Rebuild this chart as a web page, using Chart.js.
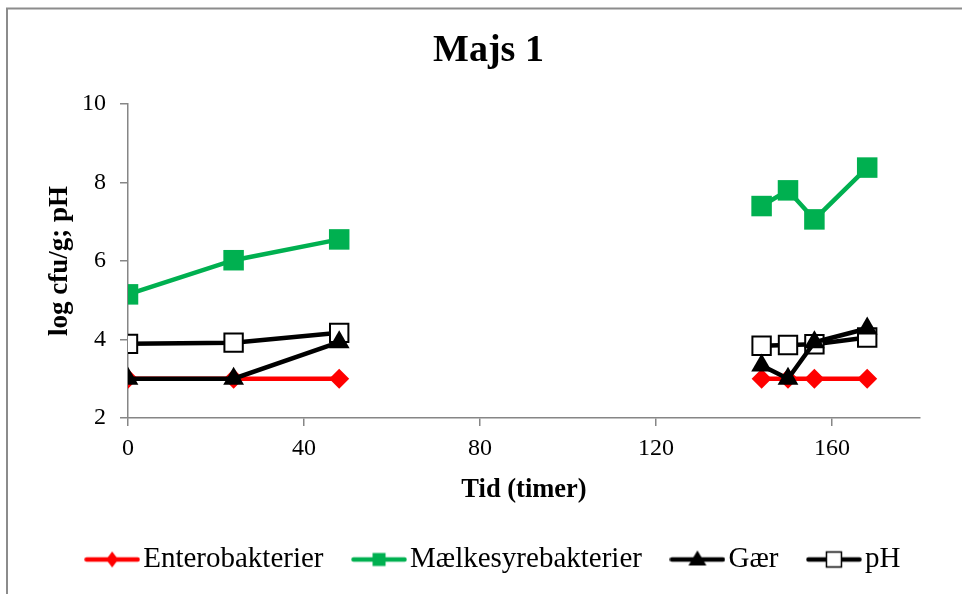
<!DOCTYPE html>
<html>
<head>
<meta charset="utf-8">
<script src="https://cdn.jsdelivr.net/npm/chart.js@4.4.1/dist/chart.umd.min.js"></script>
<style>
  html, body { margin: 0; padding: 0; background: #fff; overflow: hidden; }
  #wrap { position: absolute; left: 0; top: 0; width: 976px; height: 594px; }
</style>
</head>
<body>
<div id="wrap"><canvas id="c" width="976" height="594"></canvas></div>
<script>
// ---- data ----
const chartTitle = 'Majs 1';
const xTitle = 'Tid (timer)';
const yTitle = 'log cfu/g; pH';
const times = [0, 24, 48, 144, 150, 156, 168];
const enterobakterier = [3.0, 3.0, 3.0, 3.0, 3.0, 3.0, 3.0];
const maelkesyrebakterier = [5.15, 6.02, 6.55, 7.40, 7.80, 7.06, 8.38];
const gaer = [3.0, 3.0, 3.93, 3.34, 3.0, 3.93, 4.28];
const ph = [3.89, 3.92, 4.17, 3.84, 3.86, 3.88, 4.05];
const seriesNames = ['Enterobakterier', 'Mælkesyrebakterier', 'Gær', 'pH'];
const xTicks = [0, 40, 80, 120, 160];
const yTicks = [2, 4, 6, 8, 10];

const RED = '#FF0000', GREEN = '#00B050', BLACK = '#000000';
const FONT = "'Liberation Serif', 'Times New Roman', serif";

function pts(vals) { return times.map((t, i) => ({ x: t, y: vals[i] })); }

function makeIcon(color, kind) {
  const c = document.createElement('canvas');
  c.width = 56; c.height = 30;
  const g = c.getContext('2d');
  g.strokeStyle = color; g.lineWidth = 4.5; g.lineCap = 'round';
  g.beginPath(); g.moveTo(2.5, 15); g.lineTo(53.5, 15); g.stroke();
  const cx = 28, cy = 15;
  g.fillStyle = color;
  if (kind === 'diamond') {
    g.beginPath(); g.moveTo(cx, cy - 8); g.lineTo(cx + 6, cy); g.lineTo(cx, cy + 8); g.lineTo(cx - 6, cy); g.closePath(); g.fill();
  } else if (kind === 'square') {
    g.fillRect(cx - 6.5, cy - 6.5, 13, 13);
  } else if (kind === 'triangle') {
    g.beginPath(); g.moveTo(cx, cy - 9); g.lineTo(cx + 9, cy + 6); g.lineTo(cx - 9, cy + 6); g.closePath(); g.fill();
  } else if (kind === 'open') {
    g.fillStyle = '#fff'; g.fillRect(cx - 7.5, cy - 7.5, 15, 15);
    g.strokeStyle = color; g.lineWidth = 1.5; g.strokeRect(cx - 7.5, cy - 7.5, 15, 15);
  }
  return c;
}
const icons = [makeIcon(RED, 'diamond'), makeIcon(GREEN, 'square'), makeIcon(BLACK, 'triangle'), makeIcon(BLACK, 'open')];

const gapSegment = {
  borderColor: ctx => (ctx.p1.parsed.x - ctx.p0.parsed.x > 60 ? 'rgba(0,0,0,0)' : undefined)
};

const framePlugin = {
  id: 'frame',
  afterLayout(chart) {
    // nudge legend and title horizontally to match the reference placement
    if (chart.legend) { chart.legend.left += 7; chart.legend.right += 7; }
    if (chart.titleBlock) { chart.titleBlock.left -= 2.5; chart.titleBlock.right -= 2.5; }
  },
  beforeDraw(chart) {
    const ctx = chart.ctx;
    ctx.save();
    ctx.strokeStyle = '#8c8c8c'; ctx.lineWidth = 2;
    ctx.beginPath(); ctx.moveTo(7, 600); ctx.lineTo(7, 8.5); ctx.lineTo(990, 8.5); ctx.stroke();
    ctx.restore();
  }
};

const tickFont = { family: FONT, size: 24 };
const gridCfg = { display: true, drawOnChartArea: false, drawTicks: true, tickLength: 8, color: '#868686', lineWidth: 1.5 };
const borderCfg = { display: true, color: '#868686', width: 1.5 };

new Chart(document.getElementById('c'), {
  type: 'line',
  data: {
    datasets: [
      { label: seriesNames[0], data: pts(enterobakterier), borderColor: RED, backgroundColor: RED,
        pointStyle: 'rectRot', pointRadius: 10, pointBorderWidth: 0, borderWidth: 4.5, order: 3, segment: gapSegment },
      { label: seriesNames[1], data: pts(maelkesyrebakterier), borderColor: GREEN, backgroundColor: GREEN,
        pointStyle: 'rect', pointRadius: 14.5, pointBorderWidth: 0, borderWidth: 4.5, order: 2, segment: gapSegment },
      { label: seriesNames[2], data: pts(gaer), borderColor: BLACK, backgroundColor: BLACK,
        pointStyle: 'triangle', pointRadius: 12, pointBorderWidth: 0, borderWidth: 4.5, order: 0, segment: gapSegment },
      { label: seriesNames[3], data: pts(ph), borderColor: BLACK, backgroundColor: '#FFFFFF',
        pointStyle: 'rect', pointRadius: 13, pointBorderWidth: 2, pointBorderColor: BLACK, borderWidth: 4.5, order: 1, segment: gapSegment }
    ]
  },
  options: {
    responsive: false,
    animation: false,
    devicePixelRatio: 1,
    layout: { padding: { left: 6, right: 0, top: 0, bottom: 10 } },
    plugins: {
      tooltip: { enabled: false },
      title: {
        display: true, text: chartTitle, color: '#000',
        font: { family: FONT, size: 38, weight: 'bold' },
        padding: { top: 28, bottom: 30.4 }
      },
      legend: {
        position: 'bottom',
        labels: {
          usePointStyle: true, pointStyleWidth: 33, padding: 39, color: '#000',
          font: { family: FONT, size: 29 },
          sort: (a, b) => a.datasetIndex - b.datasetIndex,
          generateLabels: chart => {
            const items = Chart.defaults.plugins.legend.labels.generateLabels(chart);
            items.forEach(it => { it.pointStyle = icons[it.datasetIndex]; it.fontColor = '#000'; });
            return items;
          }
        }
      }
    },
    scales: {
      x: {
        type: 'linear', min: 0, max: 180,
        afterBuildTicks: s => { s.ticks = xTicks.map(v => ({ value: v })); },
        ticks: { font: tickFont, color: '#000', padding: 8, maxRotation: 0, autoSkip: false },
        grid: gridCfg, border: borderCfg,
        title: { display: true, text: xTitle, color: '#000', font: { family: FONT, size: 26.5, weight: 'bold' }, padding: { top: 3.4, bottom: 0 } }
      },
      y: {
        type: 'linear', min: 2, max: 10,
        afterBuildTicks: s => { s.ticks = yTicks.map(v => ({ value: v })); },
        ticks: { font: tickFont, color: '#000', padding: 14 },
        grid: gridCfg, border: borderCfg,
        title: { display: true, text: yTitle, color: '#000', font: { family: FONT, size: 27, weight: 'bold' }, padding: { top: 37.8, bottom: 0 } },
        afterFit: s => { s.width = 122; }
      },
      y2: {
        type: 'linear', position: 'right', display: true,
        grid: { display: false }, ticks: { display: false }, border: { display: false },
        afterFit: s => { s.width = 56; }
      }
    }
  },
  plugins: [framePlugin]
});
</script>
</body>
</html>
